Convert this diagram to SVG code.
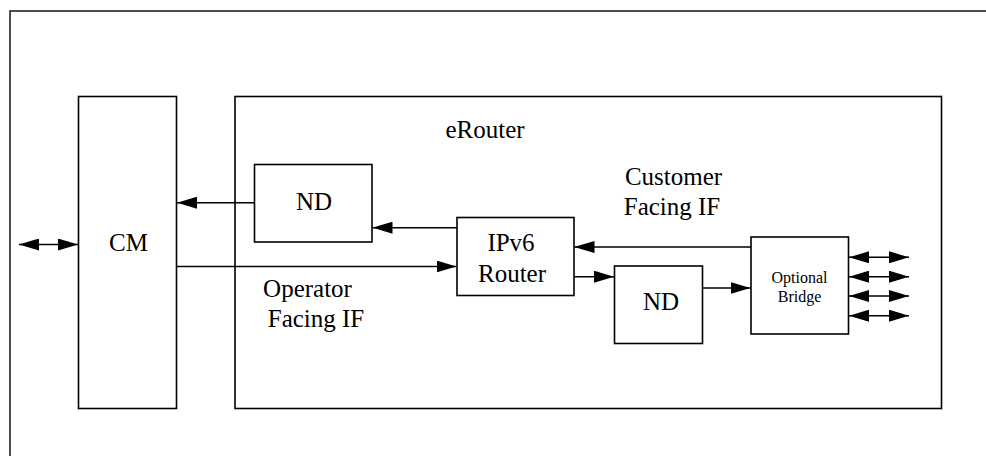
<svg xmlns="http://www.w3.org/2000/svg" width="986" height="456" viewBox="0 0 986 456">
<style>
.box{fill:#fff;stroke:#000;stroke-width:1.6}
.frame{fill:none;stroke:#222;stroke-width:1.6}
.ln{fill:none;stroke:#000;stroke-width:1.5}
.t{font-size:25px;fill:#000;text-anchor:middle}
.s{font-size:16px}
</style>
<defs>
<marker id="ah" markerUnits="userSpaceOnUse" markerWidth="20" markerHeight="12" refX="20" refY="6" orient="auto">
<path d="M0,0 L20,6 L0,12 z" fill="#000"/>
</marker>
<marker id="as" markerUnits="userSpaceOnUse" markerWidth="20" markerHeight="12" refX="0" refY="6" orient="auto">
<path d="M20,0 L0,6 L20,12 z" fill="#000"/>
</marker>
</defs>
<rect class="frame" x="10" y="11" width="1000" height="500"/>
<g font-family="'Liberation Serif', 'Times New Roman', 'DejaVu Serif', serif">
<g id="erouter">
<rect class="box" x="235" y="96.5" width="706.5" height="312"/>
<text class="t" x="485" y="138">eRouter</text>
</g>
<g id="cm">
<rect class="box" x="78.5" y="96.5" width="98" height="312"/>
<text class="t" x="128.5" y="251">CM</text>
</g>
<g id="nd1">
<rect class="box" x="254.5" y="164.5" width="117.5" height="77.5"/>
<text class="t" x="314" y="210">ND</text>
</g>
<g id="ipv6router">
<rect class="box" x="457" y="217.5" width="117" height="78"/>
<text class="t" x="511" y="251">IPv6</text>
<text class="t" x="512" y="282">Router</text>
</g>
<g id="nd2">
<rect class="box" x="614.5" y="266" width="88" height="77.5"/>
<text class="t" x="661" y="310">ND</text>
</g>
<g id="bridge">
<rect class="box" x="751" y="237" width="97.5" height="97"/>
<text class="t s" x="799.5" y="283">Optional</text>
<text class="t s" x="799.5" y="302">Bridge</text>
</g>
<g id="labels">
<text class="t" x="673.5" y="185">Customer</text>
<text class="t" x="672" y="215">Facing IF</text>
<text class="t" x="307.5" y="297">Operator</text>
<text class="t" x="316" y="327">Facing IF</text>
</g>
</g>
<g id="connectors">
<line class="ln" x1="254.5" y1="202.7" x2="177" y2="202.7" marker-end="url(#ah)"/>
<line class="ln" x1="457" y1="227.7" x2="372.5" y2="227.7" marker-end="url(#ah)"/>
<line class="ln" x1="176.5" y1="266.5" x2="456.5" y2="266.5" marker-end="url(#ah)"/>
<line class="ln" x1="751" y1="247" x2="574.5" y2="247" marker-end="url(#ah)"/>
<line class="ln" x1="574" y1="276.7" x2="614" y2="276.7" marker-end="url(#ah)"/>
<line class="ln" x1="702.5" y1="288" x2="750.5" y2="288" marker-end="url(#ah)"/>
<line class="ln" x1="19" y1="244.5" x2="78" y2="244.5" marker-start="url(#as)" marker-end="url(#ah)"/>
<line class="ln" x1="849" y1="257.3" x2="909" y2="257.3" marker-start="url(#as)" marker-end="url(#ah)"/>
<line class="ln" x1="849" y1="276.7" x2="909" y2="276.7" marker-start="url(#as)" marker-end="url(#ah)"/>
<line class="ln" x1="849" y1="296" x2="909" y2="296" marker-start="url(#as)" marker-end="url(#ah)"/>
<line class="ln" x1="849" y1="315.7" x2="909" y2="315.7" marker-start="url(#as)" marker-end="url(#ah)"/>
</g>
</svg>
